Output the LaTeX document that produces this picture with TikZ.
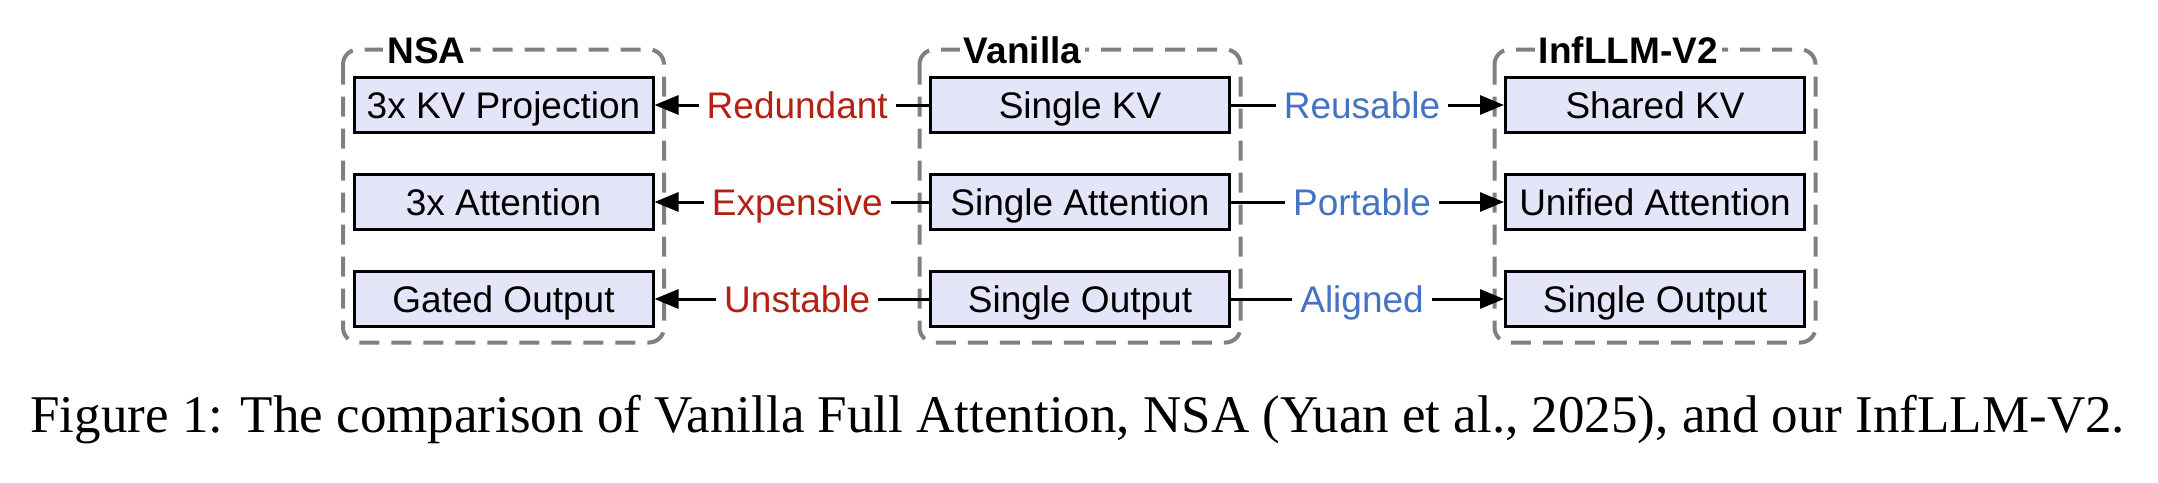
\documentclass[tikz,border=0pt]{standalone}
\usepackage{fontspec}
\setmainfont{Liberation Sans}
\newfontfamily\capfont{Liberation Serif}
\usetikzlibrary{arrows.meta}
\definecolor{boxfill}{RGB}{229,229,250}
\definecolor{grpgray}{RGB}{128,128,128}
\definecolor{badred}{RGB}{180,32,18}
\definecolor{goodblue}{RGB}{68,114,196}
\tikzset{
  stepbox/.style={draw=black, line width=1.5pt, fill=boxfill, minimum width=149.5pt,
    minimum height=27.5pt, inner sep=0pt, text height=17pt, text depth=3.75pt,
    font=\fontsize{18.5}{22}\selectfont},
  grpbox/.style={draw=grpgray, line width=2pt, dash pattern=on 10pt off 6pt, rounded corners=7.5pt},
  grplabel/.style={fill=white, inner sep=2pt, anchor=base west, font=\fontsize{18.5}{22}\selectfont\bfseries},
  conn/.style={draw=black, line width=1.5pt, -{Triangle[length=12pt,width=9.5pt]}},
  lbl/.style={fill=white, inner xsep=4pt, inner ysep=0pt, pos=0.48, text height=17pt, text depth=3.75pt,
    font=\fontsize{18.5}{22}\selectfont},
}
\begin{document}
\begin{tikzpicture}[x=0.5pt,y=-0.5pt]
\useasboundingbox (0,0) rectangle (2158,482);
% boxes
\node[stepbox] (a1) at (503.5,105) {3x KV Projection};
\node[stepbox] (a2) at (503.5,202) {3x Attention};
\node[stepbox] (a3) at (503.5,299) {Gated Output};
\node[stepbox] (b1) at (1080,105) {Single KV};
\node[stepbox] (b2) at (1080,202) {Single Attention};
\node[stepbox] (b3) at (1080,299) {Single Output};
\node[stepbox] (c1) at (1655,105) {Shared KV};
\node[stepbox] (c2) at (1655,202) {Unified Attention};
\node[stepbox] (c3) at (1655,299) {Single Output};
% group frames
\foreach \g in {a,b,c}{
  \coordinate (\g TL) at ([xshift=-4.75pt,yshift=13.25pt]\g1.north west);
  \coordinate (\g BR) at ([xshift=4.75pt,yshift=-7.25pt]\g3.south east);
  \draw[grpbox] (\g TL) rectangle (\g BR);
}
\node[grplabel] (la) at ([xshift=20pt,yshift=-7pt]aTL) {NSA};
\node[grplabel] (lb) at ([xshift=20pt,yshift=-7pt]bTL) {Vanilla};
\node[grplabel] (lc) at ([xshift=20pt,yshift=-7pt]cTL) {InfLLM-V2};
% connectors
\draw[conn] (b1.west) -- node[lbl, text=badred] (r1) {Redundant} (a1.east);
\draw[conn] (b2.west) -- node[lbl, text=badred] (r2) {Expensive} (a2.east);
\draw[conn] (b3.west) -- node[lbl, text=badred] (r3) {Unstable} (a3.east);
\draw[conn] (b1.east) -- node[lbl, text=goodblue] (g1) {Reusable} (c1.west);
\draw[conn] (b2.east) -- node[lbl, text=goodblue] (g2) {Portable} (c2.west);
\draw[conn] (b3.east) -- node[lbl, text=goodblue] (g3) {Aligned} (c3.west);
% caption
\node[anchor=base west, inner sep=0pt, font=\capfont\fontsize{26.5}{30}\selectfont] (cap) at (30,432)
  {Figure 1: The comparison of Vanilla Full Attention, NSA (Yuan et al., 2025), and our InfLLM-V2.};
\end{tikzpicture}
\end{document}
